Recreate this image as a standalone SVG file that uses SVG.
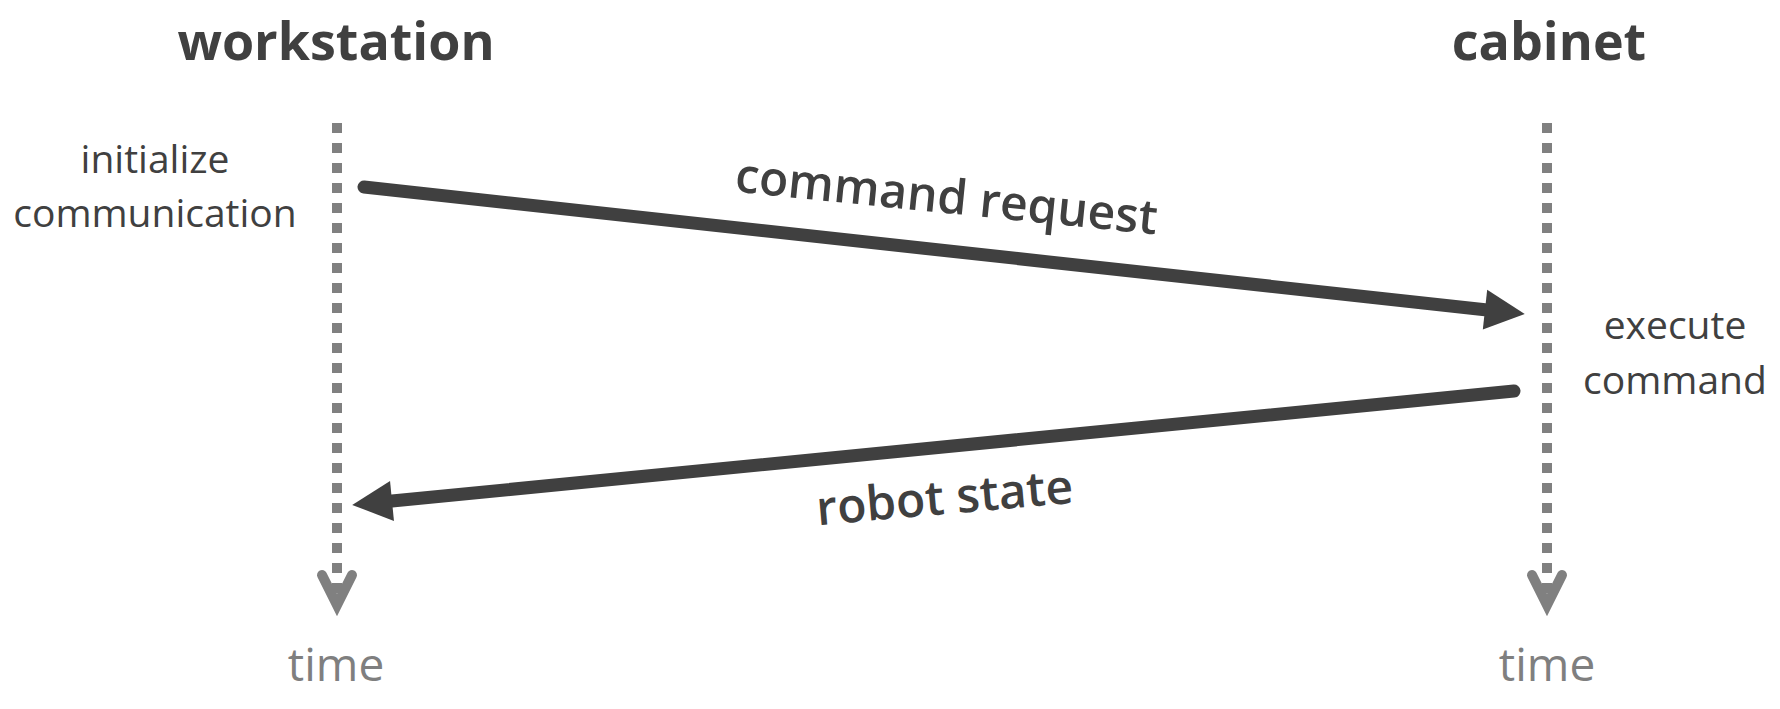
<svg xmlns="http://www.w3.org/2000/svg" width="1780" height="709" viewBox="0 0 1780 709">
<style>
.title{font-family:"Open Sans","Liberation Sans",sans-serif;font-weight:700;font-size:52px;fill:#404040;text-anchor:middle}
.note{font-family:"Open Sans","Liberation Sans",sans-serif;font-size:39px;fill:#404040;text-anchor:middle}
.time{font-family:"Open Sans","Liberation Sans",sans-serif;font-size:46px;fill:#7f7f7f;text-anchor:middle}
.lbl{font-family:"Open Sans","Liberation Sans",sans-serif;font-weight:600;font-size:48px;fill:#404040;text-anchor:middle}
.life{stroke:#808080;stroke-width:10;stroke-dasharray:10 10;fill:none}
.chev{stroke:#808080;stroke-width:10;fill:none;stroke-linecap:round;stroke-linejoin:miter}
.msg{stroke:#404040;stroke-width:13;stroke-linecap:round;fill:none;marker-end:url(#ah)}
</style>
<defs>
<marker id="ah" markerUnits="userSpaceOnUse" markerWidth="60" markerHeight="60" refX="0" refY="0" orient="auto" viewBox="-10 -30 60 60" overflow="visible">
<path d="M0,-20 L40,0 L0,20 z" fill="#404040"/>
</marker>
</defs>
<rect width="1780" height="709" fill="#ffffff"/>
<g id="workstation">
<text class="title" x="336" y="60">workstation</text>
<line class="life" x1="337" y1="123" x2="337" y2="603"/>
<polyline class="chev" points="322,575 337,605 352,575"/>
<text class="time" x="336" y="681">time</text>
</g>
<g id="cabinet">
<text class="title" x="1549" y="60">cabinet</text>
<line class="life" x1="1547" y1="123" x2="1547" y2="603"/>
<polyline class="chev" points="1532,575 1547,605 1562,575"/>
<text class="time" x="1547" y="681">time</text>
</g>
<g id="initialize">
<text class="note" x="155" y="173">initialize</text>
<text class="note" x="155" y="227">communication</text>
</g>
<g id="execute">
<text class="note" x="1675" y="339">execute</text>
<text class="note" x="1675" y="394">command</text>
</g>
<g id="connectors">
<line class="msg" x1="364" y1="187" x2="1485" y2="309.7"/>
<line class="msg" x1="1514" y1="391" x2="392" y2="501"/>
<text class="lbl" transform="translate(945,213) rotate(5.8)">command request</text>
<text class="lbl" transform="translate(946,514) rotate(-5)">robot state</text>
</g>
</svg>
